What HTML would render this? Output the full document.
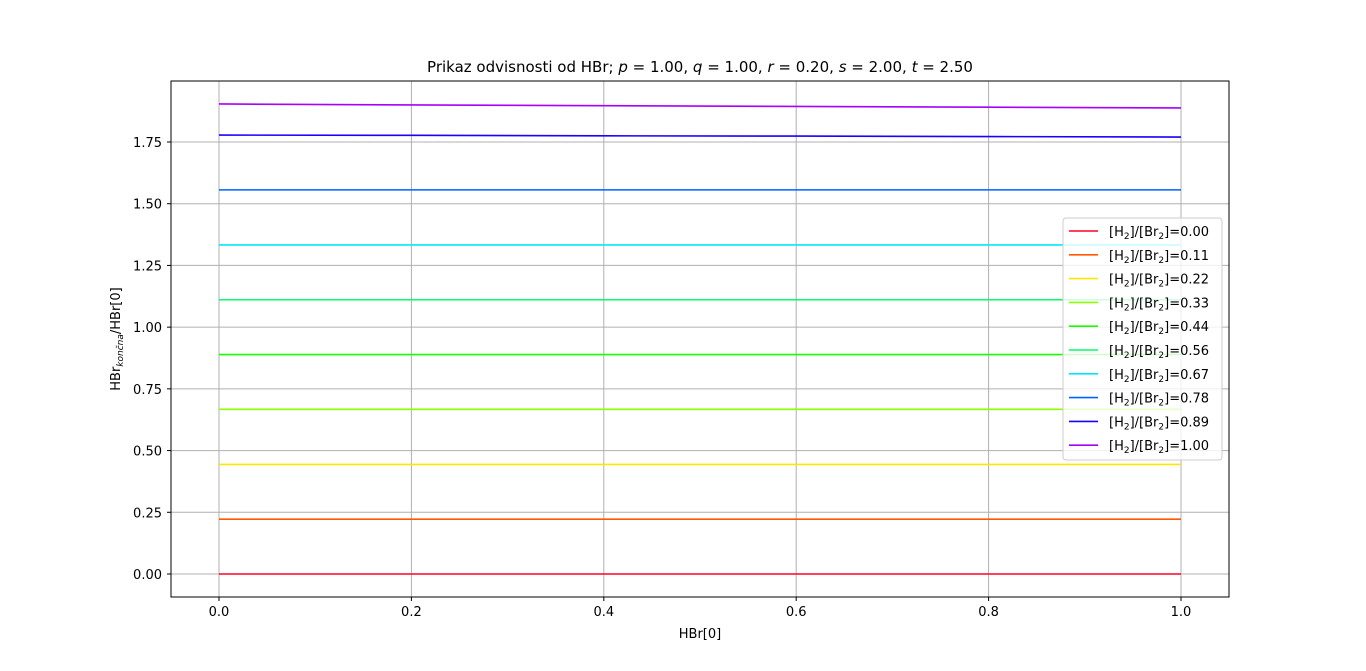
<!DOCTYPE html>
<html><head><meta charset="utf-8"><style>
html,body{margin:0;padding:0;background:#fff;width:1366px;height:671px;overflow:hidden;font-family:"Liberation Sans","DejaVu Sans",sans-serif;}
svg{display:block;}
svg text{font-family:"DejaVu Sans","Liberation Sans",sans-serif;}
</style></head><body>
<svg id="chart" width="1366" height="671" xmlns="http://www.w3.org/2000/svg">
<rect width="1366" height="671" fill="#fff"/>
<g id="grid"></g>
<g id="series"></g>
<rect x="171" y="81" width="1058" height="516" fill="none" stroke="#000" stroke-width="1"/>
<g id="axes"></g>
<text x="700" y="72" text-anchor="middle" font-size="15">Prikaz odvisnosti od HBr; <tspan font-style="italic">p</tspan> = 1.00, <tspan font-style="italic">q</tspan> = 1.00, <tspan font-style="italic">r</tspan> = 0.20, <tspan font-style="italic">s</tspan> = 2.00, <tspan font-style="italic">t</tspan> = 2.50</text>
<text x="700" y="638" text-anchor="middle" font-size="13">HBr[0]</text>
<text transform="translate(120,339) rotate(-90)" text-anchor="middle" font-size="13">HBr<tspan font-size="9" dy="3" font-style="italic">končna</tspan><tspan dy="-3">/HBr[0]</tspan></text>
<g id="legend"></g>
</svg>
<script>
const xVals=[0,0.2,0.4,0.6,0.8,1.0];
const ratios=["0.00","0.11","0.22","0.33","0.44","0.56","0.67","0.78","0.89","1.00"];
const colors=["#ff0028","#ff5a00","#ffe600","#8cff00","#17ff00","#00ff6a","#00e8ff","#0062ff","#1a00ff","#a800ff"];
const s0=[0,0,0,0,0,0];
const s1=[0.222,0.222,0.222,0.222,0.222,0.222];
const s2=[0.444,0.444,0.444,0.444,0.444,0.444];
const s3=[0.667,0.667,0.667,0.667,0.667,0.667];
const s4=[0.889,0.889,0.889,0.889,0.889,0.889];
const s5=[1.111,1.111,1.111,1.111,1.111,1.111];
const s6=[1.333,1.333,1.333,1.333,1.333,1.333];
const s7=[1.556,1.556,1.556,1.556,1.556,1.556];
const s8=[1.778,1.777,1.775,1.774,1.772,1.770];
const s9=[1.904,1.900,1.897,1.894,1.891,1.888];
const xTicks=[0,0.2,0.4,0.6,0.8,1.0];
const xTickLabels=["0.0","0.2","0.4","0.6","0.8","1.0"];
const yTicks=[0,0.25,0.5,0.75,1.0,1.25,1.5,1.75];
const yTickLabels=["0.00","0.25","0.50","0.75","1.00","1.25","1.50","1.75"];
const series=[s0,s1,s2,s3,s4,s5,s6,s7,s8,s9];
const NS="http://www.w3.org/2000/svg";
const X=v=>219+v*962;
const Y=v=>574-v*246.86;
function mk(t,a,p){const e=document.createElementNS(NS,t);for(const k in a)e.setAttribute(k,a[k]);p.appendChild(e);return e;}
const grid=document.getElementById('grid'),axes=document.getElementById('axes');
xTicks.forEach((t,i)=>{
 const g=mk('line',{x1:X(t),x2:X(t),y1:81,y2:597,stroke:'#b0b0b0','stroke-width':1},grid);
 
 
 mk('line',{x1:X(t),x2:X(t),y1:597,y2:601,stroke:'#000'},axes);
 const l=mk('text',{x:X(t),y:616,'text-anchor':'middle','font-size':13},axes);
 l.textContent=xTickLabels[i];
 
 
});
yTicks.forEach((t,i)=>{
 const g=mk('line',{x1:171,x2:1229,y1:Y(t),y2:Y(t),stroke:'#b0b0b0','stroke-width':1},grid);
 
 
 mk('line',{x1:167,x2:171,y1:Y(t),y2:Y(t),stroke:'#000'},axes);
 const l=mk('text',{x:162,y:Y(t)+5,'text-anchor':'end','font-size':13},axes);
 l.textContent=yTickLabels[i];
 
 
});
const sg=document.getElementById('series');
series.forEach((s,i)=>{
 const p=mk('polyline',{points:s.map((v,j)=>X(xVals[j])+','+Y(v)).join(' '),fill:'none',stroke:colors[i],'stroke-width':1.6},sg);
 
 
});
const lg=document.getElementById('legend');
const box=mk('rect',{x:1063,y:218,width:159,height:242,rx:3,fill:'#fff','fill-opacity':0.8,stroke:'#ccc'},lg);


ratios.forEach((r,i)=>{
 const y=231+i*23.8;
 const g=mk('g',{},lg);
 
 
 mk('line',{x1:1069,x2:1098,y1:y,y2:y,stroke:colors[i],'stroke-width':1.6},g);
 const t=mk('text',{x:1109,y:y+5,'font-size':13},g);
 t.innerHTML='[H<tspan font-size="9" dy="3">2</tspan><tspan dy="-3">]/[Br</tspan><tspan font-size="9" dy="3">2</tspan><tspan dy="-3">]='+r+'</tspan>';
});
</script>
</body></html>
